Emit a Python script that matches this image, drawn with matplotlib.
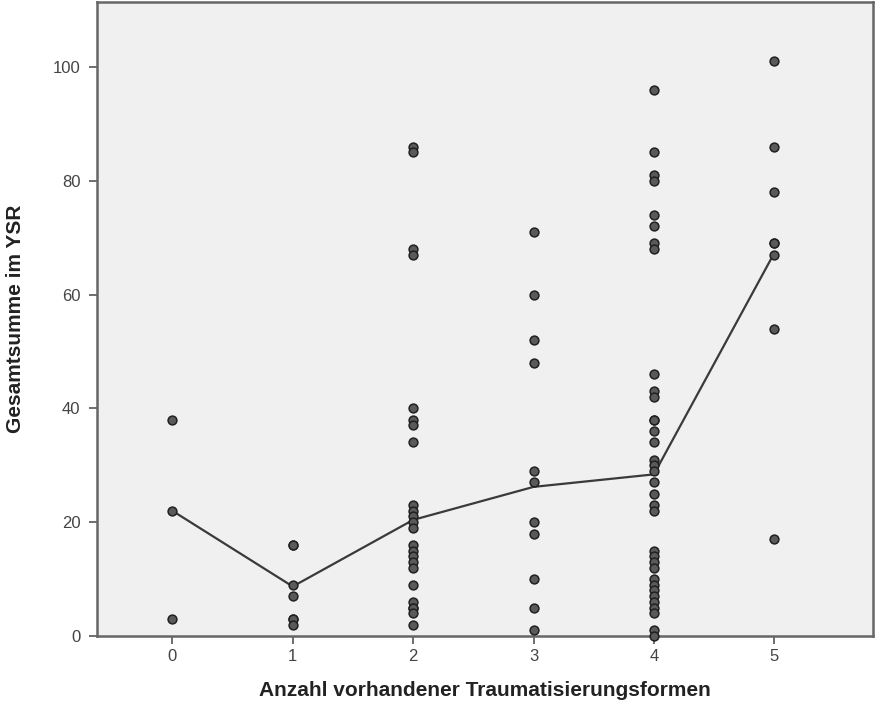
import matplotlib
matplotlib.use("Agg")
import matplotlib.pyplot as plt

plt.rcParams['font.family'] = ['Liberation Sans', 'DejaVu Sans']

# Data (x = number of trauma forms, y = YSR total)
counts = [0, 1, 2, 3, 4, 5]
ysr_0 = [38, 22, 3]
ysr_1 = [16, 16, 9, 7, 3, 3, 2]
ysr_2 = [86, 85, 68, 67, 40, 38, 37, 34, 23, 22, 21, 20, 19, 16, 15, 14,
         13, 12, 9, 6, 5, 5, 4, 2]
ysr_3 = [71, 60, 52, 48, 29, 27, 20, 18, 10, 5, 1]
ysr_4 = [96, 85, 81, 80, 74, 72, 69, 68, 46, 43, 42, 38, 38, 36, 34, 31, 30,
         29, 27, 25, 23, 22, 15, 14, 13, 12, 10, 9, 8, 7, 6, 5, 4, 1, 0]
ysr_5 = [101, 86, 78, 69, 69, 67, 54, 17]
line_values = [22, 8.7, 20.4, 26.2, 28.4, 67.3]

y_ticks = [0, 20, 40, 60, 80, 100]
x_label = "Anzahl vorhandener Traumatisierungsformen"
y_label = "Gesamtsumme im YSR"

groups = [ysr_0, ysr_1, ysr_2, ysr_3, ysr_4, ysr_5]

fig = plt.figure(figsize=(8.75, 7.04), dpi=100)
ax = fig.add_axes([97 / 875, (704 - 636) / 704, (873 - 97) / 875, (636 - 2) / 704])
ax.set_facecolor('#F0F0F0')

ax.plot(counts, line_values, color='#3a3a3a', lw=1.6, zorder=2)
for c, vals in zip(counts, groups):
    ax.scatter([c] * len(vals), vals, s=40, facecolor='#5a5a5a',
               edgecolor='#202020', linewidths=1.1, zorder=3, clip_on=False)

ax.set_xlim(-0.626, 5.82)
ax.set_ylim(0, 111.4)
ax.set_xticks(counts)
ax.set_yticks(y_ticks)
ax.tick_params(axis='both', colors='#555555', labelcolor='#444444',
               labelsize=12, length=6, width=1.2, direction='out')
ax.tick_params(axis='y', pad=6)
ax.tick_params(axis='x', pad=3.5)
for sp in ax.spines.values():
    sp.set_color('#666666')
    sp.set_linewidth(1.8)

ax.set_xlabel(x_label, fontsize=15, fontweight='bold', color='#222222', labelpad=12)
ax.set_ylabel(y_label, fontsize=15, fontweight='bold', color='#222222', labelpad=20)

fig.savefig("out.png", dpi=100, facecolor='white')
